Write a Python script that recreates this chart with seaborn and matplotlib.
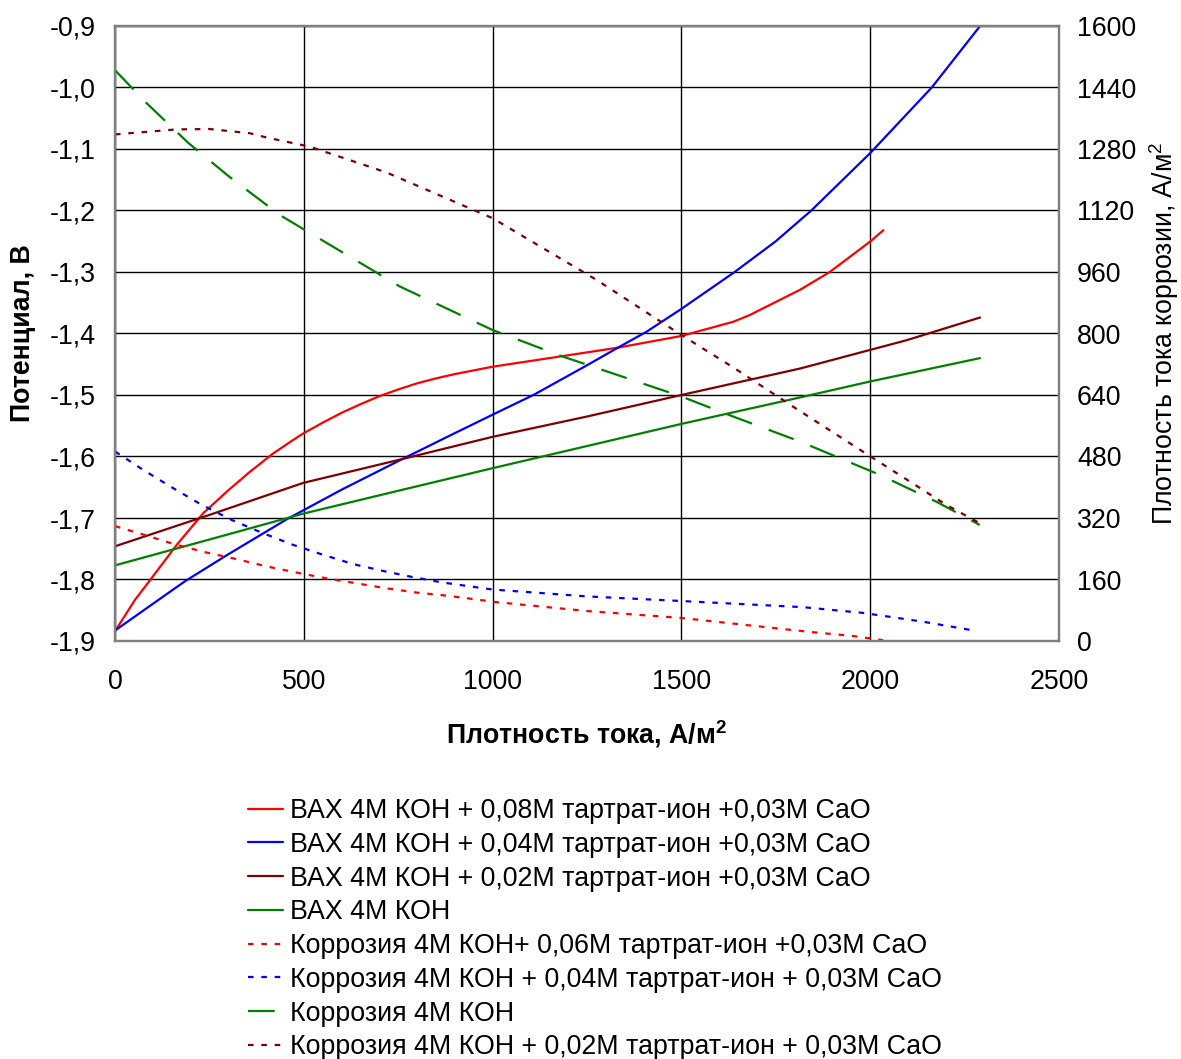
import matplotlib
matplotlib.use('Agg')
import matplotlib.pyplot as plt
import seaborn as sns
import pandas as pd
from matplotlib.ticker import FuncFormatter, MultipleLocator, FixedLocator
from matplotlib.lines import Line2D

sns.set_theme(style='white')
plt.rcParams['font.family'] = ['Liberation Sans', 'DejaVu Sans']
plt.rcParams['mathtext.fontset'] = 'custom'
plt.rcParams['mathtext.rm'] = 'Liberation Sans'
plt.rcParams['mathtext.bf'] = 'Liberation Sans:bold'
plt.rcParams['text.color'] = 'black'
plt.rcParams['axes.labelcolor'] = 'black'
plt.rcParams['xtick.color'] = 'black'
plt.rcParams['ytick.color'] = 'black'

# ---- Data (left axis: potential, V) ----
vax008_x = [0, 53, 93, 163, 234, 300, 357, 419, 472, 500, 550, 600, 650, 700, 750, 800, 850, 900, 950, 1000, 1183, 1332, 1500, 1637, 1681, 1814, 1893, 2001, 2035]
vax008_y = [-1.884, -1.833, -1.801, -1.744, -1.692, -1.655, -1.625, -1.595, -1.573, -1.562, -1.545, -1.529, -1.515, -1.502, -1.491, -1.481, -1.473, -1.466, -1.460, -1.454, -1.437, -1.423, -1.404, -1.381, -1.370, -1.329, -1.300, -1.250, -1.232]

vax004_x = [0, 90, 185, 300, 455, 600, 755, 900, 1000, 1108, 1249, 1332, 1408, 1500, 1641, 1750, 1844, 2001, 2163, 2291]
vax004_y = [-1.883, -1.844, -1.803, -1.759, -1.702, -1.654, -1.606, -1.562, -1.532, -1.500, -1.452, -1.423, -1.397, -1.360, -1.300, -1.250, -1.200, -1.106, -1.000, -0.900]

vax002_x = [0, 250, 498, 755, 1000, 1250, 1500, 1814, 2096, 2291]
vax002_y = [-1.746, -1.695, -1.643, -1.605, -1.568, -1.535, -1.500, -1.457, -1.411, -1.374]

vax0_x = [0, 250, 498, 755, 1000, 1250, 1500, 1814, 2000, 2291]
vax0_y = [-1.777, -1.735, -1.693, -1.655, -1.619, -1.583, -1.547, -1.504, -1.478, -1.440]

# ---- Data (right axis: corrosion current density, A/m2) ----
cor006_x = [0, 88, 163, 243, 322, 402, 481, 560, 640, 719, 799, 878, 958, 1001, 1250, 1500, 1836, 1955, 2034]
cor006_y = [299, 273, 250, 230, 213, 194, 178, 163, 150, 137, 126, 118, 108, 102, 78, 60, 24, 13, 2]

cor004_x = [0, 75, 150, 230, 309, 393, 472, 552, 631, 711, 790, 869, 948, 1000, 1250, 1500, 1823, 1982, 2141, 2264]
cor004_y = [493, 445, 400, 354, 315, 280, 250, 224, 200, 182, 166, 152, 141, 134, 116, 104, 88, 73, 50, 29]

cor0_x = [0, 84, 194, 300, 437, 500, 755, 1000, 1183, 1500, 1637, 1814, 2026, 2176, 2290]
cor0_y = [1485, 1399, 1296, 1210, 1108, 1071, 922, 809, 741, 636, 584, 519, 432, 362, 302]

cor002_x = [0, 163, 250, 357, 401, 516, 719, 1000, 1276, 1500, 1637, 1800, 1977, 2100, 2200, 2287]
cor002_y = [1318, 1331, 1332, 1321, 1310, 1286, 1219, 1100, 939, 796, 712, 607, 495, 418, 355, 308]

labels = [
    'ВАХ 4М КОН + 0,08М тартрат-ион +0,03М СаО',
    'ВАХ 4М КОН + 0,04М тартрат-ион +0,03М СаО',
    'ВАХ 4М КОН + 0,02М тартрат-ион +0,03М СаО',
    'ВАХ 4М КОН',
    'Коррозия 4М КОН+ 0,06М тартрат-ион +0,03М СаО',
    'Коррозия 4М КОН + 0,04М тартрат-ион + 0,03М СаО',
    'Коррозия 4М КОН',
    'Коррозия 4М КОН + 0,02М тартрат-ион + 0,03М СаО',
]

RED, BLUE, DRED, GREEN = '#FF0000', '#0000FF', '#800000', '#008000'
FS = 19.3

fig = plt.figure(figsize=(11.81, 10.59), dpi=100)
ax = fig.add_axes([115/1181, 1 - 641/1059, (1059-115)/1181, (641-26)/1059])
ax2 = ax.twinx()

lw = 1.6
left_series = [(vax008_x, vax008_y, RED), (vax004_x, vax004_y, BLUE),
               (vax002_x, vax002_y, DRED), (vax0_x, vax0_y, GREEN)]
for xs, ys, c in left_series:
    sns.lineplot(x=xs, y=ys, ax=ax, color=c, linewidth=lw, sort=False, legend=False)

dot = (2.5, 3.5)
dash = (12, 8)
right_series = [(cor006_x, cor006_y, RED, dot), (cor004_x, cor004_y, BLUE, dot),
                (cor0_x, cor0_y, GREEN, dash), (cor002_x, cor002_y, DRED, dot)]
for xs, ys, c, d in right_series:
    sns.lineplot(x=xs, y=ys, ax=ax2, color=c, linewidth=lw, sort=False, legend=False)
    ax2.lines[-1].set_dashes(d)

ax.set_xlim(0, 2500)
ax.set_ylim(-1.9, -0.9)
ax2.set_ylim(0, 1600)
ax.xaxis.set_major_locator(MultipleLocator(500))
ax.yaxis.set_major_locator(FixedLocator([-1.9 + 0.1*i for i in range(11)]))
ax2.yaxis.set_major_locator(MultipleLocator(160))
ax.yaxis.set_major_formatter(FuncFormatter(lambda v, p: f'{v:.1f}'.replace('.', ',')))
ax2.yaxis.set_major_formatter(FuncFormatter(lambda v, p: f'{v:.0f}'))

ax.grid(True, color='black', linewidth=1.0)
ax2.grid(False)
for a in (ax, ax2):
    for s in a.spines.values():
        s.set_color('#808080')
        s.set_linewidth(1.6)
    a.tick_params(axis='both', length=0, labelsize=FS, colors='black')
ax.tick_params(axis='x', pad=20)
ax.tick_params(axis='y', pad=14)
ax2.tick_params(axis='y', pad=13)

ax.set_xlabel('Плотность тока, А/м$^\\mathbf{2}$', fontsize=FS, fontweight='bold', labelpad=17, color='black')
ax.set_ylabel('Потенциал, В', fontsize=FS, fontweight='bold', labelpad=10, color='black')
ax2.set_ylabel('Плотность тока коррозии, А/м$^2$', fontsize=FS, labelpad=8, color='black')

handles = []
for _, _, c in left_series:
    handles.append(Line2D([], [], color=c, linewidth=lw))
for _, _, c, d in right_series:
    h = Line2D([], [], color=c, linewidth=lw)
    h.set_dashes(d)
    handles.append(h)

leg = fig.legend(handles, labels, loc='upper left', bbox_to_anchor=(248/1181, 1 - 798/1059),
                 frameon=False, fontsize=FS, handlelength=1.3, handletextpad=0.25,
                 labelspacing=0.29, borderaxespad=0, borderpad=0)
for t in leg.get_texts():
    t.set_color('black')

fig.savefig('out.png', dpi=100)
